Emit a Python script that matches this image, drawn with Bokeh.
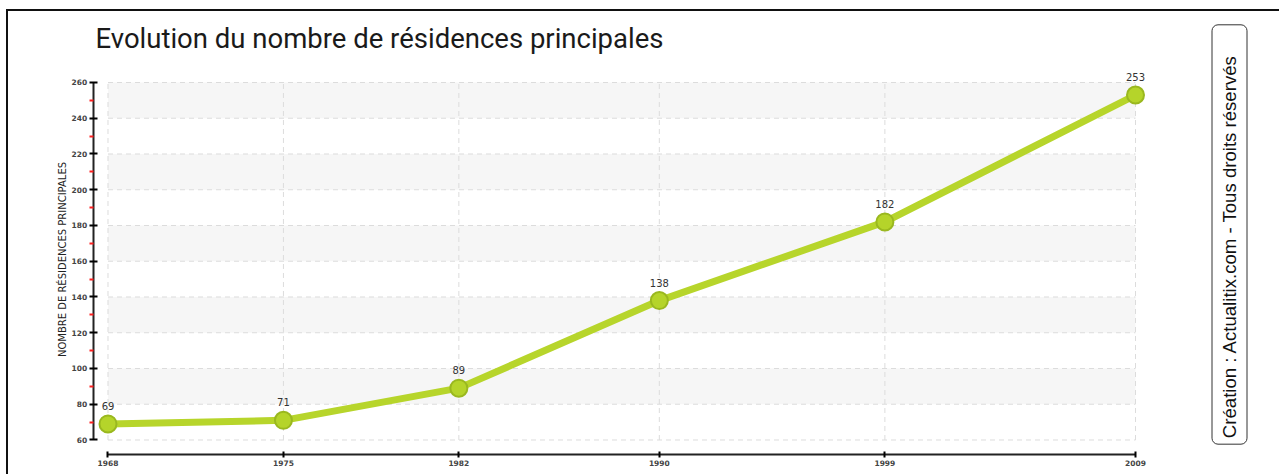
import math
from bokeh.plotting import figure
from bokeh.layouts import row
from bokeh.models import Range1d, Label, FixedTicker
from bokeh.core.properties import value
from bokeh.embed import file_html
from bokeh.resources import INLINE

years = [1968, 1975, 1982, 1990, 1999, 2009]
counts = [69, 71, 89, 138, 182, 253]
y_ticks = [60, 80, 100, 120, 140, 160, 180, 200, 220, 240, 260]
y_minor = [70, 90, 110, 130, 150, 170, 190, 210, 230, 250]
band_bottoms = [80, 120, 160, 200, 240]
band_height = 20
title_text = "Evolution du nombre de résidences principales"
y_label = "NOMBRE DE RÉSIDENCES PRINCIPALES"
credit = "Création : Actualitix.com - Tous droits réservés"

x0, x1 = years[0], years[-1]
y0, y1 = y_ticks[0], y_ticks[-1]

H = 463
p = figure(width=1271, height=H, output_backend="svg", toolbar_location=None,
           x_range=Range1d(1964.0297, 2014.746), y_range=Range1d(40.699, 299.72),
           min_border=0)
p.outline_line_color = None
p.grid.visible = False

# bands
p.quad(left=[x0] * len(band_bottoms), right=[x1] * len(band_bottoms),
       bottom=band_bottoms, top=[b + band_height for b in band_bottoms],
       fill_color="#f6f6f6", line_color=None)
# grid lines
p.segment(x0=[x0] * len(y_ticks), x1=[x1] * len(y_ticks), y0=y_ticks, y1=y_ticks,
          line_color="#dcdcdc", line_width=1, line_dash="5 4")
p.segment(x0=years, x1=years, y0=[y0] * len(years), y1=[y1] * len(years),
          line_color="#dcdcdc", line_width=1, line_dash="5 4")

p.line(years, counts, line_color="#b7d52b", line_width=7)
p.scatter(years, counts, size=17, fill_color="#b5d42a", line_color="#9ab81f", line_width=2)
p.text(years, counts, text=[str(c) for c in counts], y_offset=-14,
       text_align="center", text_baseline="bottom", text_font=value("DejaVu Sans"),
       text_font_size="10px", text_color="#333333")

# axes (drawn at fixed locations inside the frame)
p.xaxis.fixed_location = 51.888
p.xaxis.ticker = FixedTicker(ticks=years)
p.xaxis.bounds = (x0, x1)
p.xaxis.axis_line_color = "#222222"
p.xaxis.axis_line_width = 2
p.xaxis.major_tick_in = 3
p.xaxis.major_tick_out = 3
p.xaxis.major_tick_line_width = 2
p.xaxis.minor_tick_line_color = None
p.xaxis.major_label_text_font = "DejaVu Sans"
p.xaxis.major_label_text_font_size = "7.5px"
p.xaxis.major_label_text_font_style = "bold"
p.xaxis.major_label_standoff = 3

p.yaxis.fixed_location = 1967.41
p.yaxis.ticker = FixedTicker(ticks=y_ticks, minor_ticks=y_minor)
p.yaxis.bounds = (y0, y1)
p.yaxis.axis_line_color = "#222222"
p.yaxis.axis_line_width = 2
p.yaxis.major_tick_in = 4
p.yaxis.major_tick_out = 4
p.yaxis.major_tick_line_width = 2
p.yaxis.minor_tick_in = 0
p.yaxis.minor_tick_out = 4
p.yaxis.minor_tick_line_color = "#ff2020"
p.yaxis.minor_tick_line_width = 2
p.yaxis.major_label_text_font = "DejaVu Sans"
p.yaxis.major_label_text_font_size = "7.5px"
p.yaxis.major_label_text_font_style = "bold"
p.yaxis.major_label_standoff = 2

# y axis title
p.add_layout(Label(x=1966.184, y=160.98, text=y_label, angle=math.pi / 2,
                   text_font="DejaVu Sans", text_font_size="10px", text_color="#222222",
                   text_align="center", text_baseline="middle"))
# chart title
p.add_layout(Label(x=1967.501, y=284.6, text=title_text, text_font="Roboto",
                   text_font_size="27.5px", text_color="#1a1a1a", text_baseline="alphabetic"))
# credit box
p.add_layout(Label(x=2012.751, y=174.97, text=credit, angle=math.pi / 2,
                   text_font="Liberation Sans", text_font_size="18.6px", text_color="#111111",
                   text_align="center", text_baseline="middle",
                   border_line_color="#333333", border_line_width=1,
                   background_fill_color="white", border_radius=6,
                   padding=dict(left=6, right=30, top=7, bottom=7)))

layout = row(p, styles={"margin-left": "6px", "margin-top": "9px",
                        "border-left": "2px solid #111", "border-top": "2px solid #111"})

open("out.html", "w").write(file_html(layout, INLINE))
